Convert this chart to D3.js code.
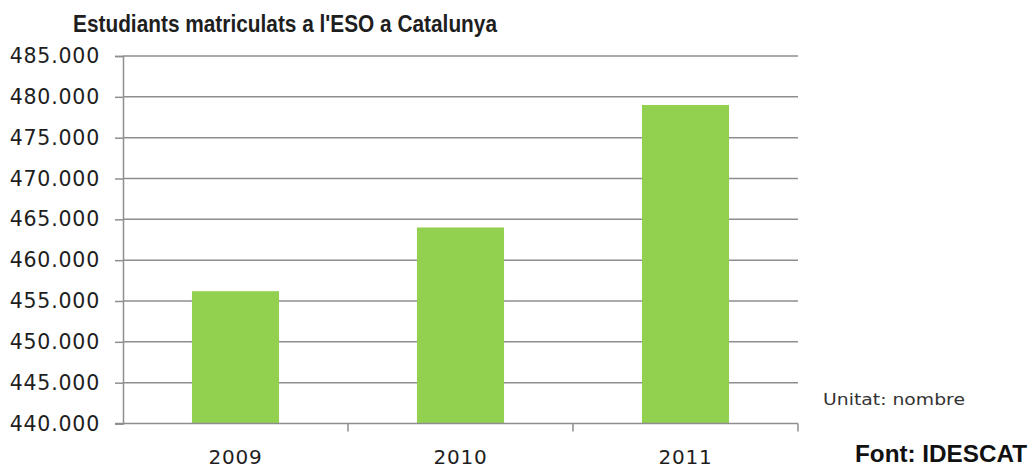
<!DOCTYPE html>
<html><head><meta charset="utf-8">
<script src="https://cdn.jsdelivr.net/npm/d3@7"></script>
<style>body{margin:0;background:#fff}svg{display:block}</style>
</head><body><svg id="c" width="1032" height="470"></svg>
<script>
const categories = ["2009","2010","2011"];
const values = [456200, 464000, 479000];
const yTicks = [440000,445000,450000,455000,460000,465000,470000,475000,480000,485000];
const titleText = "Estudiants matriculats a l'ESO a Catalunya";
const unitText = "Unitat: nombre";
const sourceText = "Font: IDESCAT";

const svg = d3.select("#c");
const L = 123, R = 798, T = 56, B = 423.5;
const x = d3.scaleBand().domain(categories).range([L, R]).paddingInner(0.613).paddingOuter(0.3065);
const y = d3.scaleLinear().domain([440000, 485000]).range([B, T]);
const lineCol = "#8e8e8e";

// y axis
const ya = svg.append("g").attr("transform", `translate(${L},0)`)
  .call(d3.axisLeft(y).tickValues(yTicks).tickSize(8).tickPadding(15)
    .tickFormat(d => (d/1000).toFixed(3)));
ya.select(".domain").attr("stroke", lineCol).attr("stroke-width", 1.5);
ya.selectAll(".tick line").attr("stroke", lineCol).attr("stroke-width", 1.5);
ya.selectAll(".tick text").attr("font-family", "DejaVu Sans").attr("font-size", 20.5)
  .attr("letter-spacing", 0.8).attr("fill", "#1e1e1e");

// gridlines
svg.append("g").selectAll("line").data(yTicks.slice(1)).join("line")
  .attr("x1", L).attr("x2", R).attr("y1", d => y(d)).attr("y2", d => y(d))
  .attr("stroke", lineCol).attr("stroke-width", 1.5);

// bars
svg.append("g").selectAll("rect").data(values).join("rect")
  .attr("x", (d,i) => x(categories[i])).attr("width", x.bandwidth())
  .attr("y", d => y(d)).attr("height", d => B - y(d))
  .attr("fill", "#92d050");

// x axis
const xa = svg.append("g").attr("transform", `translate(0,${B})`)
  .call(d3.axisBottom(x).tickSize(0).tickPadding(26));
xa.select(".domain").remove();
svg.append("line").attr("x1", L - 8).attr("x2", R).attr("y1", B).attr("y2", B)
  .attr("stroke", lineCol).attr("stroke-width", 1.5);
const bounds = categories.map(c => x(c) + x.bandwidth()/2 + x.step()/2);
svg.append("g").selectAll("line").data(bounds).join("line")
  .attr("x1", d => d).attr("x2", d => d).attr("y1", B).attr("y2", B + 8)
  .attr("stroke", lineCol).attr("stroke-width", 1.5);
xa.selectAll(".tick text").attr("font-family", "DejaVu Sans").attr("font-size", 20)
  .attr("letter-spacing", 0.8).attr("fill", "#1e1e1e");

// title
svg.append("text").attr("x", 73).attr("y", 32).text(titleText)
  .attr("font-family", "Liberation Sans").attr("font-weight", "bold").attr("font-size", 24)
  .attr("textLength", 424).attr("lengthAdjust", "spacingAndGlyphs").attr("fill", "#1e1e1e");

svg.append("text").attr("x", 823).attr("y", 405).text(unitText)
  .attr("font-family", "DejaVu Sans").attr("font-size", 15)
  .attr("textLength", 142).attr("lengthAdjust", "spacingAndGlyphs").attr("fill", "#333");

svg.append("text").attr("x", 855).attr("y", 462).text(sourceText)
  .attr("font-family", "Liberation Sans").attr("font-weight", "bold").attr("font-size", 24)
  .attr("textLength", 172).attr("lengthAdjust", "spacingAndGlyphs").attr("fill", "#111");
</script></body></html>
